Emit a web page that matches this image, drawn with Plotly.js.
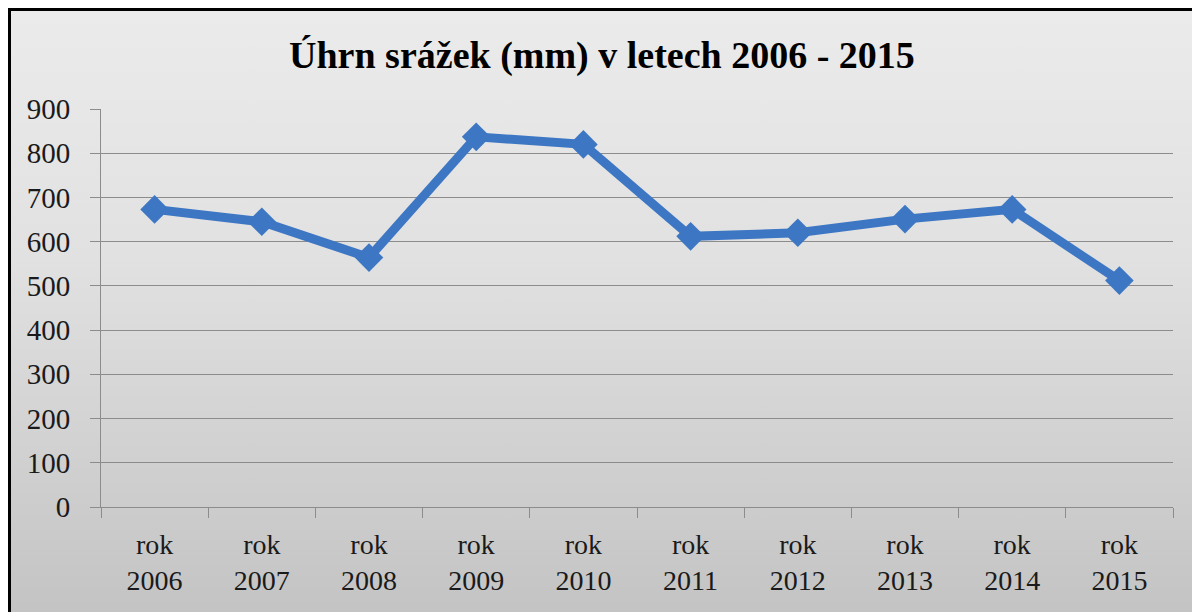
<!DOCTYPE html>
<html>
<head>
<meta charset="utf-8">
<script src="https://cdn.plot.ly/plotly-3.0.1.min.js"></script>
<style>
  html, body { margin: 0; padding: 0; background: #ffffff; }
  #wrap { position: relative; width: 1192px; height: 612px; overflow: hidden; background: #ffffff; }
  #frame { position: absolute; left: 8px; top: 8px; width: 1200px; height: 620px;
           border-top: 3px solid #000; border-left: 3px solid #000;
           background: linear-gradient(to bottom, #ebebeb 0%, #e1e1e1 40%, #c2c2c2 100%); }
  #chart { position: absolute; left: 0; top: 0; width: 1192px; height: 612px; }
  #chart text { font-family: "Liberation Serif", "Times New Roman", serif !important; }
</style>
</head>
<body>
<div id="wrap">
  <div id="frame"></div>
  <div id="chart"></div>
</div>
<script>
const categories = ["rok<br>2006", "rok<br>2007", "rok<br>2008", "rok<br>2009", "rok<br>2010",
                    "rok<br>2011", "rok<br>2012", "rok<br>2013", "rok<br>2014", "rok<br>2015"];
const precipitation = [673, 645, 564, 837, 820, 612, 620, 651, 673, 512];
const yTicks = [0, 100, 200, 300, 400, 500, 600, 700, 800, 900];
const titleText = "Úhrn srážek (mm) v letech 2006 - 2015";

const trace = {
  type: "scatter",
  mode: "lines+markers",
  x: categories,
  y: precipitation,
  line: { color: "#3d77c4", width: 9 },
  marker: { symbol: "diamond", size: 22, color: "#3d77c4" },
  hoverinfo: "x+y"
};

const layout = {
  width: 1192,
  height: 612,
  font: { family: "Liberation Serif", color: "#1a1a1a" },
  paper_bgcolor: "rgba(0,0,0,0)",
  plot_bgcolor: "rgba(0,0,0,0)",
  margin: { l: 101, r: 19, t: 109, b: 105 },
  showlegend: false,
  title: {
    text: "<b>" + titleText + "</b>",
    font: { size: 38, color: "#000" },
    x: 0.505, xanchor: "center",
    y: 0.91, yanchor: "middle"
  },
  xaxis: {
    type: "category",
    range: [-0.5, categories.length - 0.5],
    tickson: "boundaries",
    ticks: "outside",
    ticklen: 10,
    tickcolor: "#8c8c8c",
    ticklabelstandoff: 12,
    showline: true,
    linecolor: "#8c8c8c",
    linewidth: 1,
    showgrid: false,
    tickfont: { size: 28 },
    fixedrange: true
  },
  yaxis: {
    range: [0, 900],
    tickvals: yTicks,
    ticktext: yTicks.map(String),
    ticks: "outside",
    ticklen: 10,
    tickcolor: "#8c8c8c",
    ticklabelstandoff: 14,
    showline: true,
    linecolor: "#8c8c8c",
    linewidth: 1,
    showgrid: true,
    gridcolor: "#8c8c8c",
    gridwidth: 1,
    zeroline: false,
    tickfont: { size: 29 },
    fixedrange: true
  }
};

Plotly.newPlot("chart", [trace], layout, { displayModeBar: false });
</script>
</body>
</html>
